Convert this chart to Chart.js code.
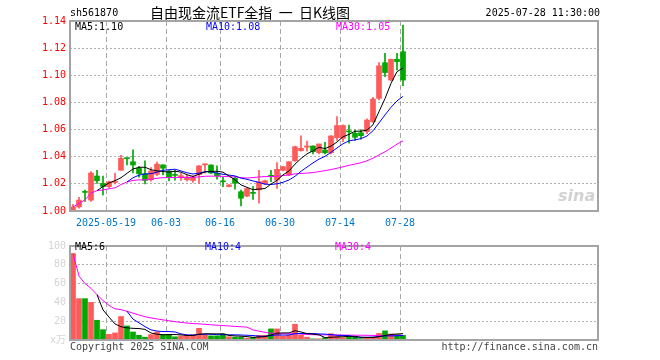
<!DOCTYPE html>
<html>
<head>
<meta charset="utf-8">
<script src="https://cdn.jsdelivr.net/npm/chart.js@4/dist/chart.umd.min.js"></script>
<style>
  body { margin: 0; background: #fff; }
  #wrap { position: relative; width: 660px; height: 360px; overflow: hidden; }
  canvas { position: absolute; left: 0; }
  .t { position: absolute; white-space: pre; font-family: 'DejaVu Sans Mono', monospace; font-size: 10px; line-height: 10px; }
</style>
</head>
<body>
<div id="wrap">
  <canvas id="price" width="660" height="236" style="top:0"></canvas>
  <canvas id="volume" width="660" height="124" style="top:236px"></canvas>

  <div class="t" style="left:70px;top:8px;color:#000">sh561870</div>
  <div class="t" style="left:150px;top:5px;font-family:'Noto Sans CJK SC',sans-serif;font-size:14px;line-height:14px;color:#000">自由现金流ETF全指  一  日K线图</div>
  <div class="t" style="right:60px;top:8px;color:#000">2025-07-28 11:30:00</div>

  <div class="t" style="left:75px;top:22px;color:#000">MA5:1.10</div>
  <div class="t" style="left:206px;top:22px;color:#0000ff">MA10:1.08</div>
  <div class="t" style="left:336px;top:22px;color:#ff00ff">MA30:1.05</div>

  <div class="t" style="left:75px;top:242px;color:#000">MA5:6</div>
  <div class="t" style="left:205px;top:242px;color:#0000ff">MA10:4</div>
  <div class="t" style="left:335px;top:242px;color:#ff00ff">MA30:4</div>

  <div class="t" style="left:558px;top:188px;font-family:'DejaVu Sans',sans-serif;font-style:italic;font-weight:bold;font-size:16px;line-height:16px;color:#d2d2d2">sina</div>

  <div class="t" style="left:70px;top:342px;color:#444">Copyright 2025 SINA.COM</div>
  <div class="t" style="right:62px;top:342px;color:#444">http://finance.sina.com.cn</div>
</div>

<script>
// trading days shown on the chart
const dates = [
  '2025-05-09', '2025-05-12', '2025-05-13', '2025-05-14', '2025-05-15', '2025-05-16',
  '2025-05-19', '2025-05-20', '2025-05-21', '2025-05-22', '2025-05-23',
  '2025-05-26', '2025-05-27', '2025-05-28', '2025-05-29', '2025-05-30',
  '2025-06-03', '2025-06-04', '2025-06-05', '2025-06-06',
  '2025-06-09', '2025-06-10', '2025-06-11', '2025-06-12', '2025-06-13',
  '2025-06-16', '2025-06-17', '2025-06-18', '2025-06-19', '2025-06-20',
  '2025-06-23', '2025-06-24', '2025-06-25', '2025-06-26', '2025-06-27',
  '2025-06-30', '2025-07-01', '2025-07-02', '2025-07-03', '2025-07-04',
  '2025-07-07', '2025-07-08', '2025-07-09', '2025-07-10', '2025-07-11',
  '2025-07-14', '2025-07-15', '2025-07-16', '2025-07-17', '2025-07-18',
  '2025-07-21', '2025-07-22', '2025-07-23', '2025-07-24', '2025-07-25',
  '2025-07-28'
];

const opens = [
  1.000, 1.003, 1.0140, 1.008, 1.0258, 1.0204, 1.018, 1.021, 1.030, 1.0390,
  1.0363, 1.0315, 1.0275, 1.023, 1.027, 1.034, 1.0295, 1.0268, 1.0245, 1.023,
  1.0225, 1.0268, 1.0340, 1.0339, 1.0278, 1.0217, 1.018, 1.0241, 1.0142, 1.0110,
  1.0135, 1.0155, 1.020, 1.026, 1.0228, 1.030, 1.0265, 1.037, 1.0444, 1.047,
  1.0479, 1.043, 1.045, 1.043, 1.054, 1.0535, 1.0587, 1.0573, 1.0577, 1.0585,
  1.0658, 1.083, 1.1093, 1.0965, 1.1118, 1.1174
];
const closes = [
  1.003, 1.008, 1.0137, 1.028, 1.0223, 1.018, 1.0215, 1.022, 1.0388, 1.0386,
  1.0339, 1.0275, 1.0225, 1.0295, 1.0345, 1.0315, 1.025, 1.0262, 1.026, 1.025,
  1.025, 1.0333, 1.0345, 1.028, 1.0258, 1.0215, 1.0192, 1.0204, 1.0094, 1.0165,
  1.013, 1.0216, 1.0223, 1.0256, 1.0307, 1.0327, 1.0363, 1.0474, 1.0462, 1.0479,
  1.0437, 1.0494, 1.0428, 1.0553, 1.063, 1.063, 1.0583, 1.0543, 1.0555, 1.067,
  1.0825, 1.107, 1.102, 1.1118, 1.110, 1.0965
];
const highs = [
  1.005, 1.010, 1.0155, 1.029, 1.030, 1.0258, 1.022, 1.028, 1.041, 1.0390,
  1.045, 1.033, 1.037, 1.032, 1.036, 1.034, 1.030, 1.030, 1.028, 1.0265,
  1.026, 1.0335, 1.0348, 1.034, 1.0332, 1.0248, 1.0195, 1.0253, 1.0155, 1.017,
  1.018, 1.030, 1.0228, 1.030, 1.0356, 1.033, 1.0365, 1.0478, 1.0553, 1.0515,
  1.048, 1.0494, 1.0506, 1.0555, 1.0695, 1.0635, 1.0634, 1.0597, 1.060, 1.068,
  1.0838, 1.1093, 1.1162, 1.112, 1.1162, 1.137
];
const lows = [
  1.000, 1.002, 1.007, 1.007, 1.0204, 1.0118, 1.017, 1.020, 1.030, 1.034,
  1.028, 1.025, 1.020, 1.022, 1.026, 1.0265, 1.0222, 1.0228, 1.0225, 1.022,
  1.021, 1.0204, 1.0278, 1.0275, 1.0234, 1.018, 1.0178, 1.016, 1.0037, 1.0105,
  1.0085, 1.0057, 1.0195, 1.0216, 1.0167, 1.0295, 1.026, 1.0365, 1.044, 1.044,
  1.042, 1.042, 1.042, 1.042, 1.052, 1.051, 1.050, 1.052, 1.053, 1.057,
  1.065, 1.0818, 1.099, 1.096, 1.104, 1.0924
];
// volume, unit 万
const volumes = [
  92, 44, 44, 40, 21, 11, 6, 7.5, 25, 15,
  8.5, 5, 3, 5.7, 8.5, 5.7, 5.7, 3.4, 4.4, 5,
  5.6, 12.4, 5.6, 4.4, 4.4, 6.4, 3.5, 3, 3, 2,
  2.8, 5, 5, 11.8, 11.8, 4, 5, 16.8, 5, 3,
  1.2, 1.3, 2.4, 6.7, 4.5, 2.5, 3, 3, 1.5, 3,
  3, 7, 9.7, 6.4, 5.7, 5
];

const tickDates = ['2025-05-19', '2025-06-03', '2025-06-16', '2025-06-30', '2025-07-14', '2025-07-28'];
const tickLabels = ['2025-05-19', '06-03', '06-16', '06-30', '07-14', '07-28'];
const priceTicks = [1.00, 1.02, 1.04, 1.06, 1.08, 1.10, 1.12, 1.14];
const volumeTicks = ['x万', '20', '40', '60', '80', '100'];

const SLOTS = 88; // room for 88 days across the plot
const RED = '#ff5a5a';
const GREEN = '#00a800';
const FONT = { family: "'DejaVu Sans Mono', 'Noto Sans CJK SC', monospace", size: 10 };

// moving averages like the quote page: MA30 is averaged over what is there until 30 days exist
function movingAvg(values, n, expanding) {
  return values.map((v, i) => {
    if (i < n - 1 && !expanding) return null;
    const win = values.slice(Math.max(0, i - n + 1), i + 1);
    return win.reduce((a, b) => a + b, 0) / win.length;
  });
}

const tickIdx = tickDates.map(d => dates.indexOf(d));
const barColors = closes.map((c, i) => (c >= opens[i] ? RED : GREEN));

const framePlugin = {
  id: 'frame',
  afterDraw(chart) {
    const { ctx, chartArea: a } = chart;
    ctx.save();
    ctx.strokeStyle = '#a4a4a4';
    ctx.lineWidth = 2;
    ctx.strokeRect(a.left, a.top, a.right - a.left, a.bottom - a.top);
    ctx.restore();
  }
};

function xAxis(height, showLabels) {
  return {
    type: 'linear',
    min: -0.5,
    max: SLOTS - 0.5,
    offset: false,
    afterBuildTicks: s => { s.ticks = tickIdx.map(i => ({ value: i - 0.5 })); },
    afterFit: s => { s.height = height; },
    grid: { color: '#a8a8a8', lineWidth: 1, drawTicks: false, offset: false },
    border: { display: false, dash: [5, 3] },
    ticks: {
      display: showLabels,
      autoSkip: false,
      maxRotation: 0,
      padding: 6,
      color: '#0077cc',
      font: FONT,
      callback: (v, k) => tickLabels[k]
    }
  };
}

function lineSet(values, color) {
  return {
    type: 'line',
    data: values.map((y, i) => ({ x: i, y })),
    borderColor: color,
    borderWidth: 1,
    pointRadius: 0,
    tension: 0,
    order: 0
  };
}

const common = {
  responsive: false,
  animation: false,
  events: [],
  plugins: { legend: { display: false }, tooltip: { enabled: false } }
};

new Chart(document.getElementById('price'), {
  type: 'bar',
  data: {
    datasets: [
      lineSet(movingAvg(closes, 5), '#000000'),
      lineSet(movingAvg(closes, 10), '#0000ff'),
      lineSet(movingAvg(closes, 30, true), '#ff00ff'),
      {
        data: opens.map((o, i) => ({ x: i, y: [o, closes[i]] })),
        backgroundColor: barColors,
        barThickness: 5,
        minBarLength: 1,
        grouped: false,
        order: 1
      },
      {
        data: lows.map((l, i) => ({ x: i, y: [l, highs[i]] })),
        backgroundColor: barColors,
        barThickness: 1,
        minBarLength: 1,
        grouped: false,
        order: 2
      }
    ]
  },
  options: {
    ...common,
    layout: { padding: { top: 21, right: 62, bottom: 0, left: 0 } },
    scales: {
      x: xAxis(25, true),
      y: {
        min: priceTicks[0],
        max: priceTicks[priceTicks.length - 1],
        afterBuildTicks: s => { s.ticks = priceTicks.map(v => ({ value: v })); },
        afterFit: s => { s.width = 70; },
        grid: { color: '#b0b0b0', drawTicks: false },
        border: { display: false, dash: [2, 2] },
        ticks: { padding: 4, color: '#ff0000', font: FONT, callback: v => v.toFixed(2) }
      }
    }
  },
  plugins: [framePlugin]
});

new Chart(document.getElementById('volume'), {
  type: 'bar',
  data: {
    datasets: [
      lineSet(movingAvg(volumes, 5), '#000000'),
      lineSet(movingAvg(volumes, 10), '#0000ff'),
      lineSet(movingAvg(volumes, 30, true), '#ff00ff'),
      {
        data: volumes.map((v, i) => ({ x: i, y: v })),
        backgroundColor: barColors,
        barThickness: 5,
        grouped: false,
        order: 1
      }
    ]
  },
  options: {
    ...common,
    layout: { padding: { top: 5, right: 62, bottom: 0, left: 0 } },
    scales: {
      x: xAxis(20, false),
      y: {
        min: 0,
        max: 100,
        afterBuildTicks: s => { s.ticks = volumeTicks.map((t, k) => ({ value: k * 20 })); },
        afterFit: s => { s.width = 70; },
        grid: { color: '#b0b0b0', drawTicks: false },
        border: { display: false, dash: [2, 2] },
        ticks: { padding: 4, color: '#d4d4d4', font: FONT, callback: (v, k) => volumeTicks[k] }
      }
    }
  },
  plugins: [framePlugin]
});
</script>
</body>
</html>
